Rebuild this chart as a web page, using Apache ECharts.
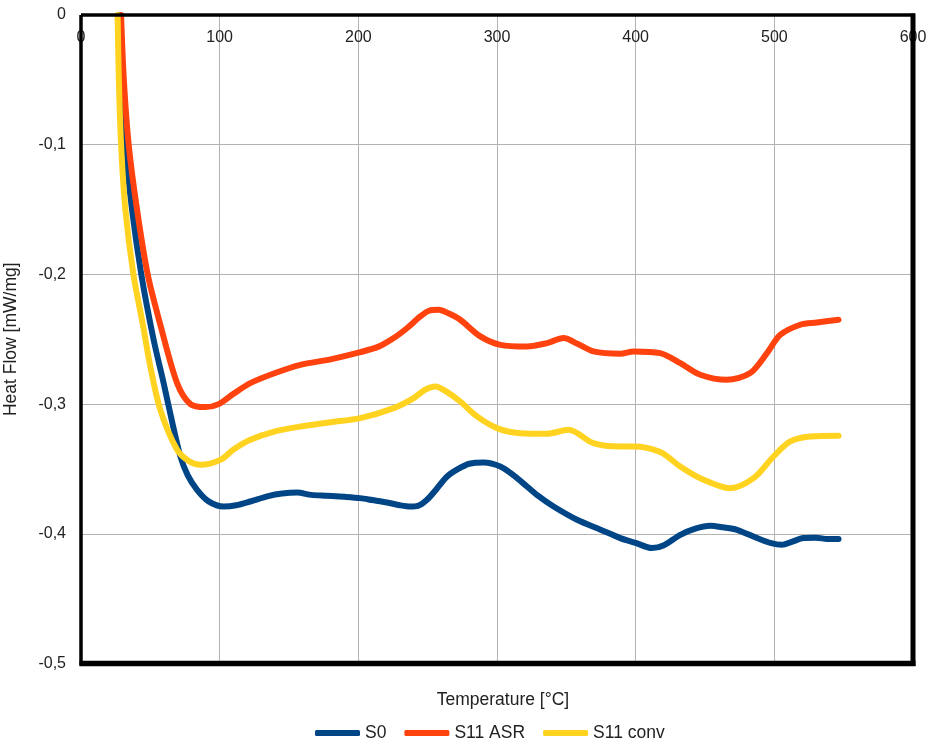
<!DOCTYPE html>
<html>
<head>
<meta charset="utf-8">
<title>Heat Flow</title>
<script src="https://cdn.jsdelivr.net/npm/echarts@6/dist/echarts.min.js"></script>
<style>
  html, body { margin: 0; padding: 0; background: #ffffff; }
  #chart { width: 929px; height: 742px; }
</style>
</head>
<body>
<div id="chart"></div>
<script>
// DSC curves: temperature (°C) and heat flow (mW/mg)
const seriesNames = ['S0', 'S11 ASR', 'S11 conv'];
const seriesColors = ['#004586', '#ff420e', '#ffd320'];

const tempS0 = [27.7, 29.5, 32, 36.8, 43.5, 52.3, 59.6, 66, 71.7, 77, 83.7, 92, 102.9, 112, 122.1, 135, 145, 155.8, 166, 177.4, 190, 201.4, 210, 220.7, 230, 237.5, 243, 249.5, 256, 264, 272, 280, 290.3, 302.4, 312, 321.6, 330, 340.8, 357.7, 375, 388.9, 400, 411.7, 420, 432.2, 443, 453.8, 463, 473, 487.5, 497, 505.5, 513, 521, 530, 538, 546.3];
const heatS0 = [0, -0.05, -0.1, -0.15, -0.2, -0.25, -0.2838, -0.315, -0.3404, -0.355, -0.3661, -0.375, -0.379, -0.378, -0.3751, -0.371, -0.369, -0.3682, -0.37, -0.3707, -0.3715, -0.3725, -0.374, -0.3759, -0.378, -0.379, -0.3785, -0.3738, -0.366, -0.3558, -0.35, -0.346, -0.345, -0.3481, -0.355, -0.3635, -0.371, -0.379, -0.3892, -0.397, -0.4033, -0.407, -0.411, -0.409, -0.4008, -0.396, -0.3938, -0.395, -0.3969, -0.4033, -0.407, -0.4085, -0.406, -0.4033, -0.403, -0.404, -0.4041];

const tempAsr = [28.9, 30.9, 34.4, 40.4, 48.1, 57.5, 69.3, 78.9, 89.7, 99.3, 110, 122.1, 140, 158.2, 180, 201.4, 215, 225.5, 235, 244.7, 251, 257.9, 265, 273.5, 288, 302.4, 321.6, 336, 348, 358, 369.6, 388.9, 398.5, 417.7, 432.2, 446.6, 465.8, 482.6, 494.7, 504.3, 518.7, 530.7, 546.3];
const heatAsr = [0, -0.05, -0.1, -0.15, -0.2, -0.24, -0.2838, -0.3, -0.3023, -0.3, -0.292, -0.2838, -0.276, -0.2697, -0.2655, -0.26, -0.2555, -0.2491, -0.2415, -0.2324, -0.228, -0.2273, -0.23, -0.235, -0.2478, -0.2543, -0.2556, -0.253, -0.2491, -0.2535, -0.2594, -0.2612, -0.2594, -0.2607, -0.2684, -0.2774, -0.2813, -0.2761, -0.2607, -0.2466, -0.2388, -0.2371, -0.235];

const tempConv = [26.4, 27.3, 28.9, 32, 37.8, 44.5, 50, 57.2, 69.3, 78, 86.1, 100.5, 110, 122.1, 140, 158.2, 180, 201.4, 225.5, 239.9, 248, 255.6, 263, 273.5, 285.6, 300, 316.8, 336, 351.6, 369.6, 388.9, 398.5, 417.7, 432.2, 446.6, 468.2, 485, 499.4, 511.5, 525.9, 546.3];
const heatConv = [0, -0.05, -0.1, -0.15, -0.2, -0.238, -0.271, -0.3044, -0.3352, -0.344, -0.3468, -0.343, -0.335, -0.3275, -0.321, -0.3173, -0.314, -0.3108, -0.3031, -0.2954, -0.289, -0.2864, -0.29, -0.298, -0.3095, -0.3185, -0.3224, -0.3229, -0.3198, -0.3301, -0.3327, -0.3327, -0.337, -0.3481, -0.3571, -0.3648, -0.3571, -0.3404, -0.3288, -0.325, -0.3244];

// Axis ranges and tick spacing
const xMin = 0, xMax = 600, xStep = 100;
const yMin = -0.5, yMax = 0, yStep = 0.1;

const FONT = '"Liberation Sans", Arial, sans-serif';

function pairs(xs, ys) {
  return xs.map((x, i) => [x, ys[i]]);
}
const seriesData = [pairs(tempS0, heatS0), pairs(tempAsr, heatAsr), pairs(tempConv, heatConv)];

const chart = echarts.init(document.getElementById('chart'), null, { renderer: 'canvas' });

const option = {
  backgroundColor: '#ffffff',
  animation: false,
  grid: { left: 81, top: 15, width: 832, height: 648.5, show: false, containLabel: false, outerBoundsMode: 'none' },
  xAxis: {
    type: 'value',
    min: xMin, max: xMax, interval: xStep,
    position: 'top',
    axisLine: { show: false },
    axisTick: { show: false },
    axisLabel: {
      inside: true, margin: 15,
      color: '#222', fontFamily: FONT, fontSize: 16,
      showMinLabel: true, showMaxLabel: true
    },
    splitLine: { show: true, lineStyle: { color: '#b3b3b3', width: 1 } }
  },
  yAxis: {
    type: 'value',
    min: yMin, max: yMax, interval: yStep,
    axisLine: { show: false },
    axisTick: { show: false },
    axisLabel: {
      margin: 15,
      color: '#222', fontFamily: FONT, fontSize: 16,
      formatter: v => (Math.abs(v) < 1e-9 ? '0' : v.toFixed(1).replace('.', ','))
    },
    splitLine: { show: true, lineStyle: { color: '#b3b3b3', width: 1 } },
    name: 'Heat Flow [mW/mg]',
    nameLocation: 'middle',
    nameGap: 61,
    nameRotate: 90,
    nameTextStyle: { color: '#222', fontFamily: FONT, fontSize: 17.5 }
  },
  legend: {
    left: 315, top: 724, padding: 0,
    icon: 'roundRect',
    itemWidth: 45, itemHeight: 6, itemGap: 18,
    textStyle: { color: '#222', fontFamily: FONT, fontSize: 17.5 },
    data: seriesNames
  },
  series: seriesNames.map((name, i) => ({
    name: name,
    type: 'line',
    data: seriesData[i],
    showSymbol: false,
    symbol: 'none',
    smooth: 0.3,
    clip: true,
    color: seriesColors[i],
    itemStyle: { color: seriesColors[i] },
    lineStyle: { color: seriesColors[i], width: 6, cap: 'round', join: 'round' }
  }))
};

chart.setOption(option);

// Frame around the plot area and the horizontal axis title
const tl = chart.convertToPixel({ gridIndex: 0 }, [xMin, yMax]);
const br = chart.convertToPixel({ gridIndex: 0 }, [xMax, yMin]);
chart.setOption({
  graphic: [
    { type: 'line', z: 100, shape: { x1: tl[0], y1: tl[1], x2: br[0] + 2, y2: tl[1] }, style: { stroke: '#000', lineWidth: 3.5 } },
    { type: 'line', z: 100, shape: { x1: tl[0], y1: tl[1], x2: tl[0], y2: br[1] + 2 }, style: { stroke: '#000', lineWidth: 3.5 } },
    { type: 'line', z: 100, shape: { x1: br[0], y1: tl[1] - 1.5, x2: br[0], y2: br[1] + 2.5 }, style: { stroke: '#000', lineWidth: 5 } },
    { type: 'line', z: 100, shape: { x1: tl[0] - 1.5, y1: br[1], x2: br[0] + 2.5, y2: br[1] }, style: { stroke: '#000', lineWidth: 5.5 } },
    {
      type: 'text', z: 100,
      x: (tl[0] + br[0]) / 2 + 6, y: 700,
      style: {
        text: 'Temperature [°C]', fill: '#222',
        font: '17.5px ' + FONT,
        textAlign: 'center', textVerticalAlign: 'middle'
      }
    }
  ]
});
</script>
</body>
</html>
